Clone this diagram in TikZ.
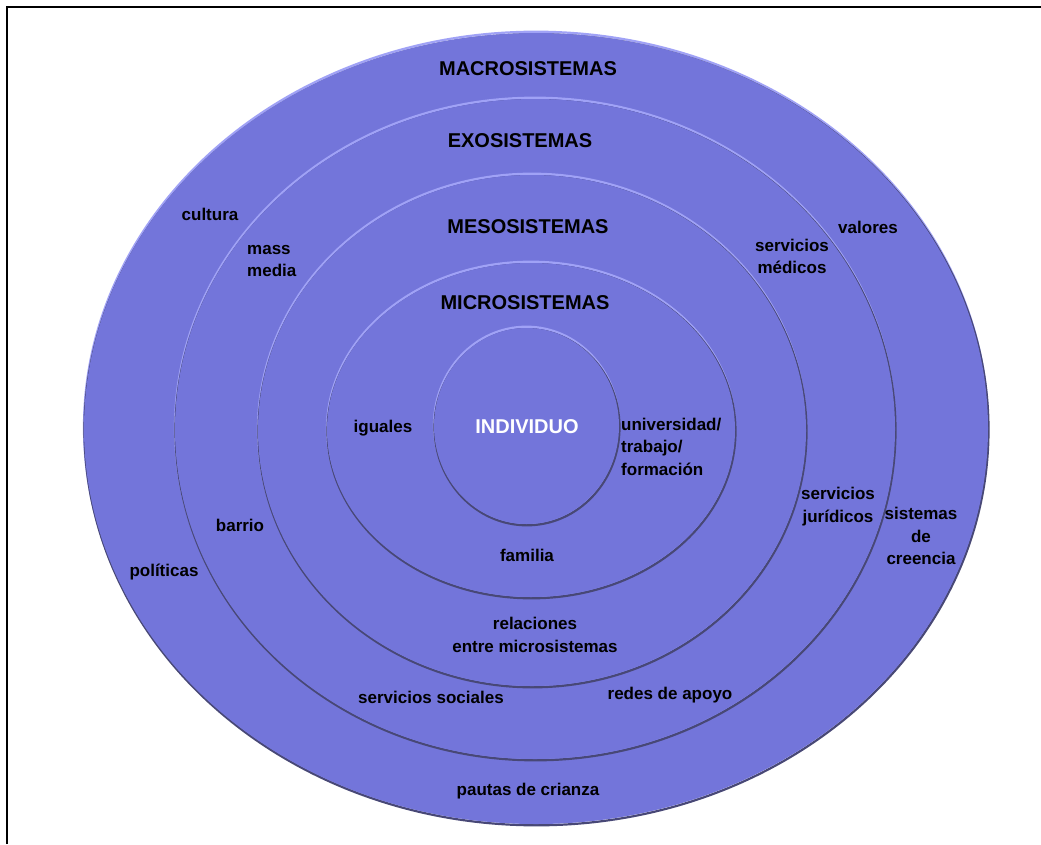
\documentclass[tikz,border=0pt]{standalone}
\usepackage{fontspec}
\setmainfont{Liberation Sans}
\definecolor{ringfill}{RGB}{115,117,218}
\definecolor{ringhl}{RGB}{160,162,246}
\definecolor{ringsh}{RGB}{72,72,118}
\newcommand\embring[3]{%
  \draw[ringhl, line width=2.2pt, yshift=1.3pt] (#1) ellipse [x radius=#2, y radius=#3];
  \draw[ringsh, line width=2.2pt, yshift=-1.3pt, xshift=0.5pt] (#1) ellipse [x radius=#2, y radius=#3];
  \fill[ringfill] (#1) ellipse [x radius=#2, y radius=#3];
}
\tikzset{
  lab/.style={font=\fontsize{17}{22.5}\selectfont\bfseries, inner sep=0pt, text=black, align=center},
  head/.style={font=\fontsize{20}{24}\selectfont\bfseries, inner sep=0pt, text=black, anchor=base},
}
\begin{document}
\begin{tikzpicture}[x=1pt, y=-1pt]
\useasboundingbox (0,0) rectangle (1041,844);
\fill[white] (0,0) rectangle (1041,844);
\draw[black, line width=2pt] (6.7,844) -- (6.7,6.7) -- (1041,6.7);

\embring{536,428.5}{452}{395.5}
\embring{535,429}{360}{330}
\embring{532,430.5}{274}{255.5}
\embring{531,430}{204}{167}
\embring{526.5,426}{92.5}{98}

\node[head] (macro) at (528,75) {MACROSISTEMAS};
\node[head] (exo) at (520,147) {EXOSISTEMAS};
\node[head] (meso) at (528,233.3) {MESOSISTEMAS};
\node[head] (micro) at (525,309.3) {MICROSISTEMAS};
\node[head, text=white] (indiv) at (527,433) {INDIVIDUO};

\node[lab, anchor=base] (iguales) at (383,432.3) {iguales};
\node[lab, anchor=west, align=left] (univ) at (621,446.5) {universidad/\\trabajo/\\formación};
\node[lab, anchor=base] (familia) at (527,561) {familia};
\node[lab] (relac) at (535,635.1) {relaciones\\entre microsistemas};
\node[lab, anchor=base] (ssoc) at (431,703) {servicios sociales};
\node[lab, anchor=base] (redes) at (670,699) {redes de apoyo};
\node[lab, anchor=base] (pautas) at (528,795) {pautas de crianza};
\node[lab, anchor=base] (cultura) at (210,220.7) {cultura};
\node[lab, anchor=west, align=left] (mass) at (247,261) {mass\\media};
\node[lab] (smed) at (792,256.4) {servicios\\médicos};
\node[lab, anchor=base] (valores) at (868,233.3) {valores};
\node[lab, anchor=base] (barrio) at (240,531.7) {barrio};
\node[lab, anchor=base] (politicas) at (164,576.7) {políticas};
\node[lab] (sjur) at (838,506.8) {servicios\\jurídicos};
\node[lab] (screen) at (921,536.4) {sistemas\\de\\creencia};
\end{tikzpicture}
\end{document}
